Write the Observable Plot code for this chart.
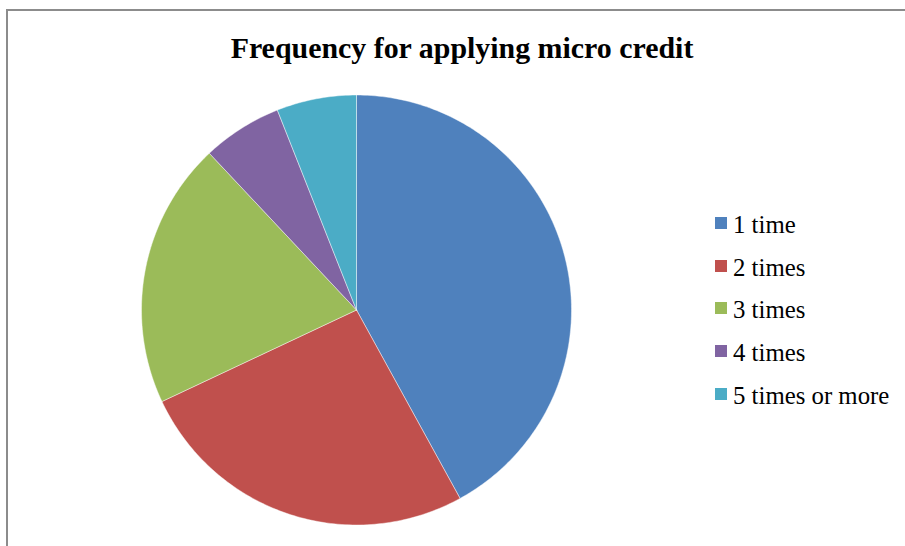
<!DOCTYPE html>
<html>
<head>
<meta charset="utf-8">
<script src="https://cdn.jsdelivr.net/npm/d3@7"></script>
<script src="https://cdn.jsdelivr.net/npm/@observablehq/plot@0.6"></script>
<style>
  html, body { margin: 0; padding: 0; background: #fff; }
  body { width: 905px; height: 546px; overflow: hidden; position: relative; }
  #frame {
    position: absolute; left: 6px; top: 9px; width: 1000px; height: 700px;
    border-top: 2px solid #8c8c8c; border-left: 2px solid #8c8c8c;
    box-sizing: border-box;
  }
  #title {
    position: absolute; left: 462px; top: 32.5px; transform: translateX(-50%);
    font-family: "Liberation Serif", "Times New Roman", serif;
    font-weight: bold; font-size: 29.9px; line-height: 30px; white-space: nowrap; color: #000;
  }
  #chart { position: absolute; left: 0; top: 0; }
  #legend { position: absolute; left: 715px; top: 213px; }
  .row { position: absolute; left: 0; height: 24px; white-space: nowrap; }
  .sw { position: absolute; left: 0; top: 4px; width: 12px; height: 12px; }
  .lab {
    position: absolute; left: 18px; top: 0;
    font-family: "Liberation Serif", "Times New Roman", serif;
    font-size: 24.8px; line-height: 24px; color: #000;
  }
</style>
</head>
<body>
<div id="frame"></div>
<div id="title">Frequency for applying micro credit</div>
<div id="chart"></div>
<div id="legend"></div>
<script>
// Responses: how many times each respondent applied for micro credit (%)
const categories = ["1 time", "2 times", "3 times", "4 times", "5 times or more"];
const shares = [42, 26, 20, 6, 6];
const colors = ["#4F81BD", "#C0504D", "#9BBB59", "#8064A2", "#4BACC6"];

// Slice angles, starting at 12 o'clock and running clockwise
const arcs = d3.pie().sort(null).value(d => d.share)(
  categories.map((category, i) => ({category, share: shares[i]}))
);

// Each wedge as a closed outline in unit-circle coordinates
const wedges = arcs.flatMap(a => {
  const steps = Math.max(2, Math.ceil((a.endAngle - a.startAngle) / (Math.PI / 180)));
  const pts = [{category: a.data.category, u: 0, v: 0}];
  for (let k = 0; k <= steps; ++k) {
    const t = a.startAngle + (a.endAngle - a.startAngle) * k / steps;
    pts.push({category: a.data.category, u: Math.sin(t), v: Math.cos(t)});
  }
  pts.push({category: a.data.category, u: 0, v: 0});
  return pts;
});

const chart = Plot.plot({
  width: 905,
  height: 546,
  margin: 0,
  style: {background: "transparent", overflow: "visible"},
  x: {domain: [-1, 1], range: [141, 571], axis: null},
  y: {domain: [-1, 1], range: [524.5, 94.5], axis: null},
  color: {type: "ordinal", domain: categories, range: colors},
  marks: [
    Plot.line(wedges, {
      x: "u", y: "v", z: "category",
      fill: "category",
      stroke: "#ffffff", strokeWidth: 0.8, strokeOpacity: 0.55,
      curve: "linear-closed"
    })
  ]
});
document.getElementById("chart").appendChild(chart);

// Legend, one row per category
const legend = d3.select("#legend");
categories.forEach((c, i) => {
  const row = legend.append("div").attr("class", "row").style("top", `${i * 42.7}px`);
  row.append("div").attr("class", "sw").style("background", colors[i]);
  row.append("div").attr("class", "lab").text(c);
});
</script>
</body>
</html>
